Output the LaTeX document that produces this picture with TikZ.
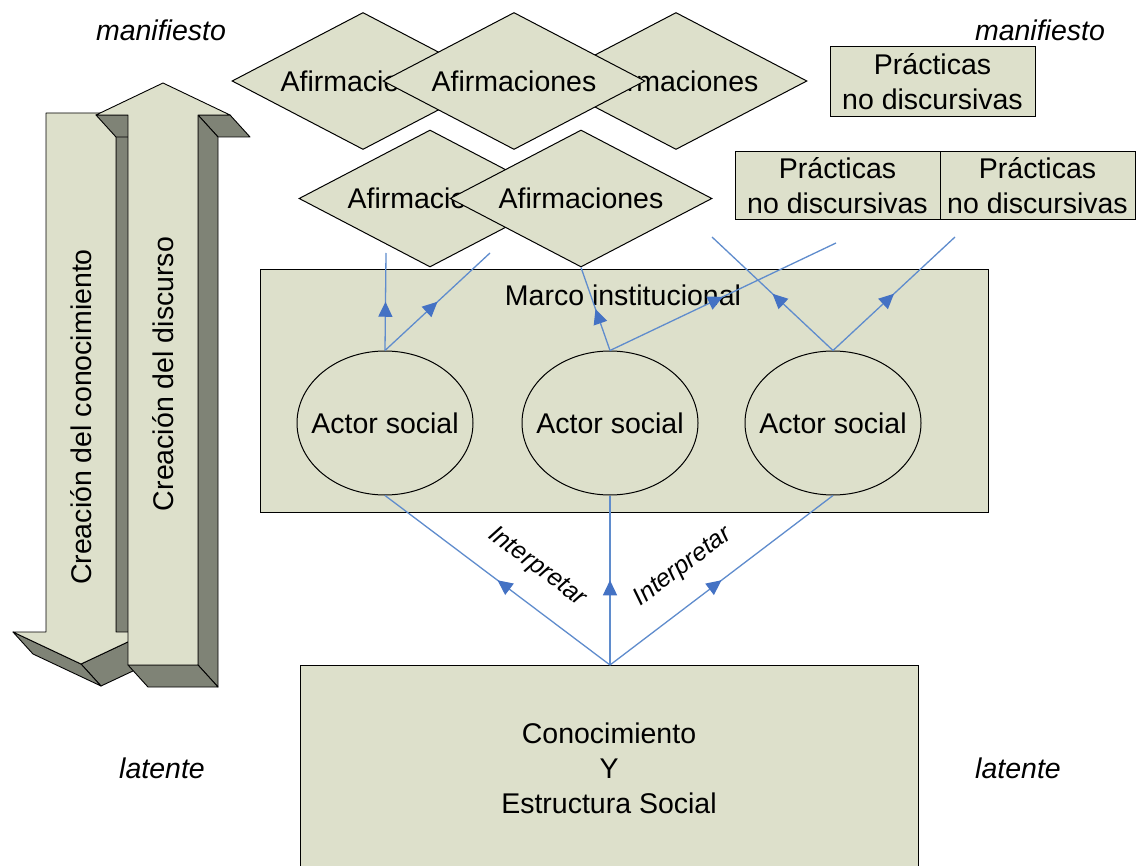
\documentclass[tikz,border=0pt]{standalone}
\usepackage{fontspec}
\setmainfont{Liberation Sans}
\usetikzlibrary{shapes.geometric,arrows.meta,decorations.markings}
\definecolor{fillc}{RGB}{221,224,203}
\definecolor{darkc}{RGB}{127,131,118}
\definecolor{linec}{RGB}{95,140,205}
\definecolor{tipc}{RGB}{68,114,196}
\newcommand\myfs{\fontsize{28.5}{35}\selectfont}
\begin{document}
\begin{tikzpicture}[x=1pt,y=-1pt,
  box/.style={draw=black,fill=fillc,line width=1pt,inner sep=0pt,font=\myfs,align=center},
  dia/.style={box,diamond,shape aspect=1.9,minimum width=262pt,minimum height=137pt},
  actor/.style={box,ellipse,inner xsep=-16pt,inner ysep=0pt,minimum width=176pt,minimum height=144pt},
  rectbox/.style={box,rectangle},
  lbl/.style={font=\myfs\itshape,inner sep=0pt},
  face/.style={fill=darkc,draw=black,line width=0.9pt,line join=round},
  front/.style={fill=fillc,draw=black,line width=0.9pt,line join=round},
  flow/.style={draw=linec,line width=1.3pt,postaction=decorate,
    decoration={markings,mark=at position #1 with {\arrow{Triangle[length=15pt,width=14pt,color=tipc]}}}},
  flow/.default=0.5
]
\clip (0,0) rectangle (1138,866);
\fill[white] (0,0) rectangle (1138,866);

% corner labels
\node[lbl] (m1) at (161,30) {manifiesto};
\node[lbl] (m2) at (1040,30) {manifiesto};
\node[lbl] (l1) at (162,768) {latente};
\node[lbl] (l2) at (1018,768) {latente};

% left 3D arrow A (down)
\path[face] (116,113) -- (116,632) -- (136,654) -- (136,135) -- cycle;
\path[face] (149,632) -- (81,664) -- (101,686) -- (169,654) -- cycle;
\path[face] (81,664) -- (13,632) -- (33,654) -- (101,686) -- cycle;
\path[front] (46,113) -- (116,113) -- (116,632) -- (149,632) -- (81,664) -- (13,632) -- (46,632) -- cycle;
\node[rotate=90,font=\myfs,inner sep=0pt] (ta) at (81,417) {Creación del conocimiento};

% left 3D arrow B (up)
\path[face] (128,115) -- (96,115) -- (116,137) -- (148,137) -- cycle;
\path[face] (230,115) -- (198,115) -- (218,137) -- (250,137) -- cycle;
\path[face] (198,115) -- (198,665) -- (218,687) -- (218,137) -- cycle;
\path[face] (198,665) -- (128,665) -- (148,687) -- (218,687) -- cycle;
\path[front] (128,665) -- (128,115) -- (96,115) -- (163,83) -- (230,115) -- (198,115) -- (198,665) -- cycle;
\node[rotate=90,font=\myfs,inner sep=0pt] (tb) at (163,374) {Creación del discurso};

% diamonds
\node[dia] (d1) at (363,81) {Afirmaciones};
\node[dia] (d3) at (676,81) {Afirmaciones};
\node[dia] (d2) at (514,81) {Afirmaciones};
\node[dia] (d4) at (430,198.5) {Afirmaciones};
\node[dia] (d5) at (581,198.5) {Afirmaciones};

% practicas
\node[rectbox,minimum width=205pt,minimum height=70pt] (r1) at (932.5,82) {Prácticas\\no discursivas};
\node[rectbox,minimum width=205pt,minimum height=68pt] (r2) at (837.5,186) {Prácticas\\no discursivas};
\node[rectbox,minimum width=195pt,minimum height=68pt] (r3) at (1037.5,186) {Prácticas\\no discursivas};

% marco institucional
\node[rectbox,minimum width=728pt,minimum height=242pt] (marco) at (624,391) {};
\node[font=\myfs,inner sep=0pt] (marcot) at (623,295) {Marco institucional};

% actors
\node[actor] (a1) at (385,423) {Actor social};
\node[actor] (a2) at (610,423) {Actor social};
\node[actor] (a3) at (833,423) {Actor social};

% bottom box
\node[rectbox,minimum width=618pt,minimum height=206pt] (base) at (609,768) {Conocimiento\\Y\\Estructura Social};

% free ends
\coordinate (e1) at (386,253);
\coordinate (e2) at (490,253);
\coordinate (e3) at (836,243);
\coordinate (e4) at (712,237);
\coordinate (e5) at (955,237);
\coordinate (src) at (610,665);

% connectors
\draw[flow] (a1.north) -- (e1);
\draw[flow] (a1.north) -- (e2);
\draw[flow] (a2.north) -- (d5.south);
\draw[flow] (a2.north) -- (e3);
\draw[flow] (a3.north) -- (e4);
\draw[flow] (a3.north) -- (e5);
\draw[flow] (src) -- (a1.south);
\draw[flow] (src) -- (a2.south);
\draw[flow] (src) -- (a3.south);

\node[font=\fontsize{25}{30}\selectfont\itshape,rotate=-37,inner sep=0pt] (i1) at (537,567) {Interpretar};
\node[font=\fontsize{25}{30}\selectfont\itshape,rotate=37,inner sep=0pt] (i2) at (683,567) {Interpretar};
\end{tikzpicture}
\end{document}
